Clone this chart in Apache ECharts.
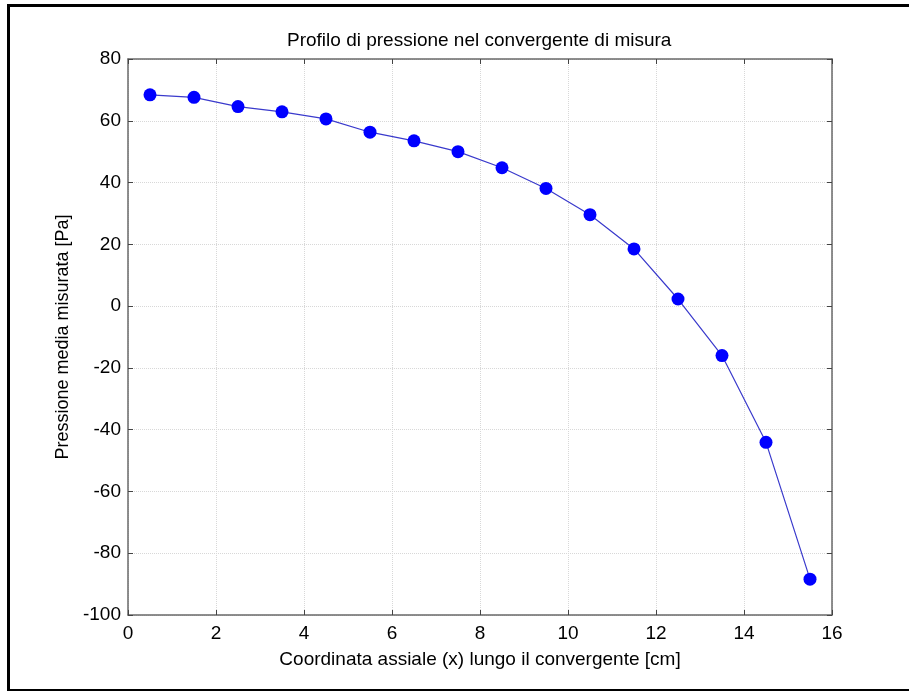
<!DOCTYPE html>
<html>
<head>
<meta charset="utf-8">
<script src="https://cdn.jsdelivr.net/npm/echarts@6/dist/echarts.min.js"></script>
<style>
  html, body { margin: 0; padding: 0; background: #fff; }
  #chart { width: 909px; height: 691px; }
</style>
</head>
<body>
<div id="chart"></div>
<script>
// Axial position of each pressure tap [cm]
const positions = [0.5, 1.5, 2.5, 3.5, 4.5, 5.5, 6.5, 7.5, 8.5, 9.5, 10.5, 11.5, 12.5, 13.5, 14.5, 15.5];
// Mean measured pressure at each tap [Pa]
const pressures = [68.4, 67.6, 64.6, 62.9, 60.6, 56.3, 53.5, 50.0, 44.8, 38.1, 29.6, 18.5, 2.3, -16.0, -44.1, -88.4];

const titleText = 'Profilo di pressione nel convergente di misura';
const xName = 'Coordinata assiale (x) lungo il convergente [cm]';
const yName = 'Pressione media misurata [Pa]';

const FONT = '"Liberation Sans", Arial, Helvetica, sans-serif';
const AXIS_COLOR = '#6a6a6a';

const chart = echarts.init(document.getElementById('chart'), null, { renderer: 'canvas' });

const gridLine = { show: true, lineStyle: { color: '#d8d8d8', type: [1, 1], width: 1 } };
const tickStyle = { show: true, inside: true, length: 5, lineStyle: { color: '#444', width: 1 } };
const axisLine = { show: true, onZero: false, lineStyle: { color: AXIS_COLOR, width: 1.5 } };
const labelStyle = { color: '#000', fontFamily: FONT, fontSize: 19 };

chart.setOption({
  animation: false,
  backgroundColor: '#fff',
  title: {
    text: titleText,
    left: 282, top: 26,
    textStyle: { color: '#000', fontFamily: FONT, fontSize: 19, fontWeight: 'normal' }
  },
  grid: { left: 128, right: 77, top: 59, bottom: 76, containLabel: false },
  xAxis: [{
    type: 'value', min: 0, max: 16, interval: 2,
    name: xName, nameLocation: 'middle', nameGap: 35,
    nameTextStyle: { color: '#000', fontFamily: FONT, fontSize: 19 },
    axisLine, axisTick: tickStyle, splitLine: gridLine,
    axisLabel: Object.assign({ margin: 9 }, labelStyle)
  }, {
    type: 'value', min: 0, max: 16, interval: 2, position: 'top',
    axisLine, axisTick: tickStyle, splitLine: { show: false }, axisLabel: { show: false }
  }],
  yAxis: [{
    type: 'value', min: -100, max: 80, interval: 20,
    name: yName, nameLocation: 'middle', nameGap: 56,
    nameTextStyle: { color: '#000', fontFamily: FONT, fontSize: 18 },
    axisLine, axisTick: tickStyle, splitLine: gridLine,
    axisLabel: Object.assign({ margin: 7 }, labelStyle)
  }, {
    type: 'value', min: -100, max: 80, interval: 20, position: 'right',
    axisLine, axisTick: tickStyle, splitLine: { show: false }, axisLabel: { show: false }
  }],
  series: [{
    type: 'line',
    data: positions.map((x, i) => [x, pressures[i]]),
    symbol: 'circle', symbolSize: 13,
    lineStyle: { color: '#3a3acc', width: 1.2 },
    itemStyle: { color: '#0000ff' }
  }],
  graphic: [{
    type: 'rect',
    shape: { x: 8.5, y: 5.5, width: 920, height: 685 },
    style: { fill: 'none', stroke: '#000', lineWidth: 3 },
    silent: true
  }]
});
</script>
</body>
</html>
